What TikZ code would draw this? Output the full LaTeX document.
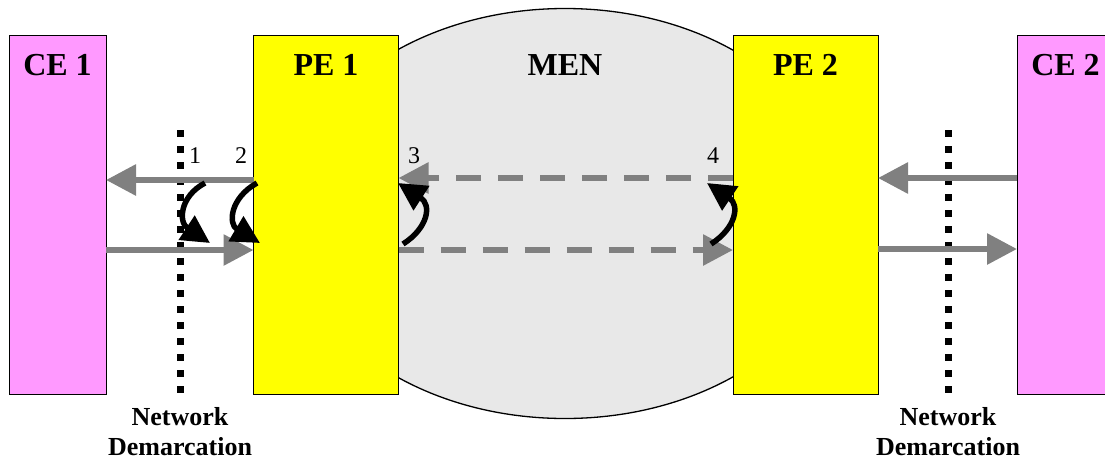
\documentclass[tikz,border=0pt]{standalone}
\usepackage{fontspec}
\setmainfont{Liberation Serif}
\usetikzlibrary{arrows.meta,calc,shapes.geometric}
\definecolor{cepink}{HTML}{FF99FF}
\definecolor{peyellow}{HTML}{FFFF00}
\definecolor{mengray}{HTML}{E8E8E8}
\definecolor{flowgray}{HTML}{808080}
\begin{document}
\begin{tikzpicture}[x=1pt,y=-1pt,
  box/.style={draw=black, line width=1pt, inner sep=0pt, outer sep=0pt, minimum height=359pt},
  ce/.style={box, fill=cepink, minimum width=97pt},
  pe/.style={box, fill=peyellow, minimum width=145pt},
  title/.style={font=\fontsize{32}{36}\selectfont\bfseries, anchor=base, inner sep=0pt},
  num/.style={font=\fontsize{24}{27}\selectfont, anchor=base, inner sep=0pt},
  demarc/.style={font=\fontsize{26}{30}\selectfont\bfseries, align=center, inner sep=0pt},
  flow/.style={draw=flowgray, line width=6pt, -{Triangle[length=30pt,width=30pt]}},
  tunnel/.style={flow, dash pattern=on 25pt off 17pt},
  loopback/.style={draw=black, line width=5.5pt, -{Triangle[length=28pt,width=28pt]}},
  boundary/.style={draw=black, line width=7pt, dash pattern=on 7pt off 9pt}
]
\useasboundingbox (0,0) rectangle (1105,461);
\clip (0,0) rectangle (1105,461);

% MEN cloud
\node[draw=black, line width=1.3pt, fill=mengray, ellipse, inner sep=0pt,
      minimum width=556pt, minimum height=410pt] (MEN) at (565,213.5) {};

% boxes
\node[ce] (CE1) at (57.5,214.5) {};
\node[pe] (PE1) at (326,214.5) {};
\node[pe] (PE2) at (805.5,214.5) {};
\node[ce] (CE2) at (1065.5,214.5) {};

% titles
\node[title] (CE1t) at (57.5,75) {CE 1};
\node[title] (PE1t) at (326,75) {PE 1};
\node[title] (MENt) at (565,75) {MEN};
\node[title] (PE2t) at (805.5,75) {PE 2};
\node[title] (CE2t) at (1065.5,75) {CE 2};

% demarcation lines
\coordinate (D1top) at (180,130);
\coordinate (D1bot) at (180,396);
\coordinate (D2top) at (948,130);
\coordinate (D2bot) at (948,396);
\draw[boundary] (D1top) -- (D1bot);
\draw[boundary] (D2top) -- (D2bot);
\node[demarc] (N1) at (180,432) {Network\\Demarcation};
\node[demarc] (N2) at (948,432) {Network\\Demarcation};

% point numbers
\node[num] (n1) at (195,163) {1};
\node[num] (n2) at (241,163) {2};
\node[num] (n3) at (414,163) {3};
\node[num] (n4) at (713,163) {4};

% flows
\draw[flow] ($(PE1.north west)+(0,145)$) -- ($(CE1.north east)+(0,145)$);
\draw[flow] ($(CE1.north east)+(0,215)$) -- ($(PE1.north west)+(0,215)$);
\draw[tunnel] ($(PE2.north west)+(0,143)$) -- ($(PE1.north east)+(0,143)$);
\draw[tunnel] ($(PE1.north east)+(0,215)$) -- ($(PE2.north west)+(0,215)$);
\draw[flow] ($(CE2.north west)+(0,143)$) -- ($(PE2.north east)+(0,143)$);
\draw[flow] ($(PE2.north east)+(0,214)$) -- ($(CE2.north west)+(0,214)$);

% loopbacks
\coordinate (L1s) at (205,183);  \coordinate (L1e) at (210,243);
\coordinate (L2s) at (257,183);  \coordinate (L2e) at (260,243);
\coordinate (L3s) at (403,244);  \coordinate (L3e) at (398,183);
\coordinate (L4s) at (711,244);  \coordinate (L4e) at (707,183);
\draw[loopback] (L1s) .. controls (180,196) and (178,222) .. (L1e);
\draw[loopback] (L2s) .. controls (230,198) and (228,224) .. (L2e);
\draw[loopback] (L3s) .. controls (428,228) and (432,205) .. (L3e);
\draw[loopback] (L4s) .. controls (736,228) and (740,205) .. (L4e);
\end{tikzpicture}
\end{document}
